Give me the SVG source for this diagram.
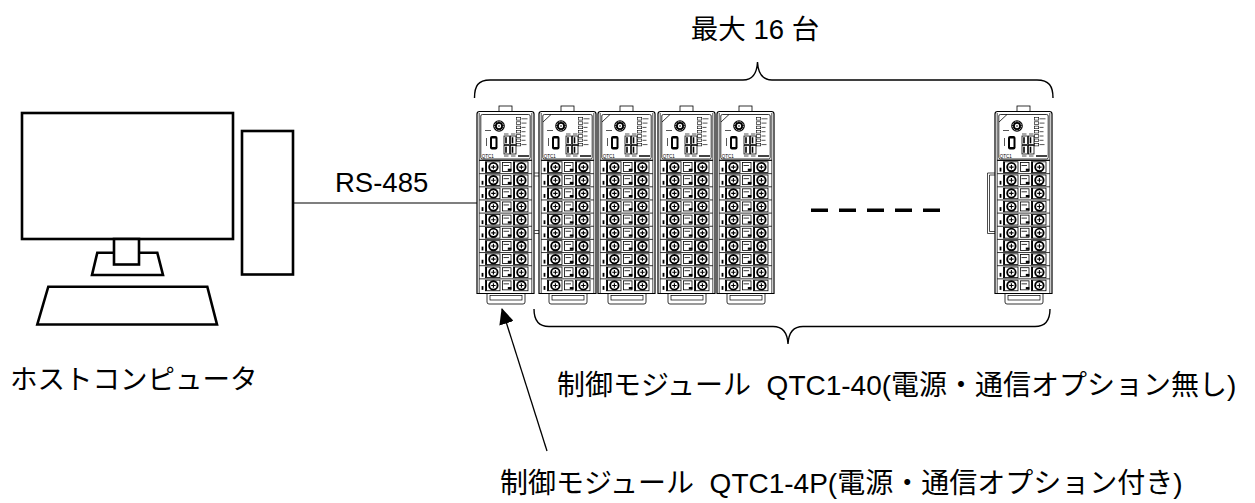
<svg xmlns="http://www.w3.org/2000/svg" width="1255" height="503" viewBox="0 0 1255 503">
<style>
.lbl{font-family:"Liberation Sans","Noto Sans CJK JP",sans-serif;font-size:27.5px;fill:#000}
.big{font-size:28px}
.pc{fill:#fff;stroke:#000;stroke-width:2.6;stroke-linejoin:miter}
.ln{fill:none;stroke:#000;stroke-width:1.4}
.th{stroke:#000;stroke-width:0.8;fill:#fff}
.tn{stroke:#000;stroke-width:0.6;fill:#fff}
.gl{stroke:#555;stroke-width:1;fill:none}
.tiny{font-family:"Liberation Sans",sans-serif;font-size:4.5px;fill:#000}
</style>
<defs>
<marker id="arr" markerUnits="userSpaceOnUse" viewBox="0 0 16 15" markerWidth="16" markerHeight="15" refX="15" refY="7.5" orient="auto">
<path d="M0,0 L16,7.5 L0,15 Z" fill="#000"/>
</marker>
<g id="row">
<line x1="2.2" y1="0" x2="54.8" y2="0" stroke="#000" stroke-width="0.8"/>
<rect x="4.6" y="7.2" width="1.8" height="3.8" fill="#000"/>
<rect x="8.5" y="1.3" width="14.5" height="10.6" class="th"/>
<line x1="9.2" y1="1.3" x2="9.2" y2="11.9" stroke="#000" stroke-width="1.6"/>
<circle cx="16.4" cy="6.6" r="4.2" fill="#fff" stroke="#000" stroke-width="1.9"/>
<path d="M14.2,6.6 H18.6 M16.4,4.4 V8.8" stroke="#000" stroke-width="1.1"/>
<rect x="25.5" y="2" width="8.5" height="9" class="th"/>
<line x1="26.5" y1="5" x2="32" y2="5" stroke="#000" stroke-width="0.8"/>
<rect x="30.8" y="8.2" width="3.6" height="2.2" fill="#000"/>
<rect x="36.5" y="1.3" width="14.5" height="10.6" class="th"/>
<line x1="37.2" y1="1.3" x2="37.2" y2="11.9" stroke="#000" stroke-width="1.6"/>
<circle cx="44.4" cy="6.6" r="4.2" fill="#fff" stroke="#000" stroke-width="1.9"/>
<path d="M42.2,6.6 H46.6 M44.4,4.4 V8.8" stroke="#000" stroke-width="1.1"/>
</g>
<g id="mod">
<rect x="22" y="106" width="13" height="6" class="th"/>
<path d="M10,292 V302 Q10,304 12,304 H46 Q48,304 48,302 V292" class="th"/>
<rect x="13" y="295.5" width="32" height="4.5" fill="none" stroke="#000" stroke-width="0.7"/>
<path d="M0,293.5 V114 Q0,111.5 2.5,111.5 H54.5 Q57,111.5 57,114 V293.5 Z" fill="#fff" stroke="#000" stroke-width="1.2"/>
<line x1="2.2" y1="113" x2="2.2" y2="293.5" stroke="#000" stroke-width="0.7"/>
<line x1="54.8" y1="113" x2="54.8" y2="293.5" stroke="#000" stroke-width="0.7"/>
<rect x="3.8" y="114.5" width="49.4" height="44.5" rx="1.5" class="th"/>
<circle cx="22" cy="126" r="5.8" fill="#000"/>
<circle cx="22" cy="126" r="4.4" fill="none" stroke="#fff" stroke-width="1" stroke-dasharray="0.9 0.9"/>
<circle cx="22" cy="126" r="2.2" fill="#fff"/>
<circle cx="22" cy="126" r="0.8" fill="#000"/>
<line x1="8" y1="130.5" x2="14" y2="130.5" class="gl"/>
<g>
<rect x="39.5" y="117.5" width="4.2" height="2.6" class="tn"/>
<rect x="39.5" y="121.8" width="4.2" height="2.6" class="tn"/>
<rect x="39.5" y="126.1" width="4.2" height="2.6" class="tn"/>
<rect x="39.5" y="130.4" width="4.2" height="2.6" class="tn"/>
<rect x="39.5" y="134.7" width="4.2" height="2.6" class="tn"/>
<rect x="39.5" y="139" width="4.2" height="2.6" class="tn"/>
<rect x="39.5" y="143.3" width="4.2" height="2.6" class="tn"/>
<path d="M44.5,118.8 H50.5 M44.5,123.1 H49.5 M44.5,127.4 H48.5 M44.5,131.7 H48.5 M44.5,136 H48.5 M44.5,140.3 H48.5 M44.5,144.6 H49.5" class="gl"/>
</g>
<path d="M27,134 H31.5 M34,134 H38.5 M27,156 H31.5 M34,156 H38.5" class="gl"/>
<rect x="13" y="136" width="7.5" height="13.5" rx="2" fill="#000"/>
<rect x="15" y="138.5" width="3.5" height="8.5" fill="#fff"/>
<line x1="9.5" y1="138" x2="9.5" y2="146" class="gl"/>
<g>
<rect x="27" y="136" width="5.5" height="8.5" class="th"/>
<rect x="33.5" y="136" width="5.5" height="8.5" class="th"/>
<rect x="27" y="145.5" width="5.5" height="8.5" class="th"/>
<rect x="33.5" y="145.5" width="5.5" height="8.5" class="th"/>
<rect x="28.2" y="137.2" width="1.6" height="6.1" fill="#000"/>
<rect x="34.7" y="137.2" width="1.6" height="6.1" fill="#000"/>
<rect x="28.2" y="146.7" width="1.6" height="6.1" fill="#000"/>
<rect x="34.7" y="146.7" width="1.6" height="6.1" fill="#000"/>
</g>
<text x="4.8" y="158" class="tiny">QTC1</text>
<rect x="41" y="155" width="11" height="2" fill="#444"/>
<line x1="2.2" y1="160.2" x2="54.8" y2="160.2" stroke="#000" stroke-width="1"/>
<use href="#row" y="160.5"/>
<use href="#row" y="173.65"/>
<use href="#row" y="186.8"/>
<use href="#row" y="199.95"/>
<use href="#row" y="213.1"/>
<use href="#row" y="226.25"/>
<use href="#row" y="239.4"/>
<use href="#row" y="252.55"/>
<use href="#row" y="265.7"/>
<use href="#row" y="278.85"/>
</g>
</defs>
<rect width="1255" height="503" fill="#fff"/>

<g id="host">
<rect x="22" y="113" width="211" height="126" class="pc"/>
<polygon points="97.3,252.7 157.3,252.7 163,275 92,275" class="pc"/>
<rect x="114" y="239" width="25" height="25.5" class="pc"/>
<polygon points="48.3,286.7 207.3,286.7 217,324.5 37.3,324.5" class="pc"/>
<rect x="242" y="131" width="51" height="143.5" class="pc"/>
<text x="10" y="389" class="lbl">ホストコンピュータ</text>
</g>

<g id="connectors">
<line x1="293" y1="203" x2="477" y2="203" stroke="#000" stroke-width="1.2"/>
<text x="335" y="192" class="lbl">RS-485</text>
<line x1="547" y1="451" x2="502" y2="309" stroke="#000" stroke-width="1.3" marker-end="url(#arr)"/>
</g>

<g id="module-1">
<use href="#mod" x="477"/>
<path d="M534.5,173 H539 M534.5,176 H539 M534.5,230.5 H539 M534.5,233.5 H539" stroke="#000" stroke-width="0.7"/>
</g>
<g id="module-2">
<use href="#mod" x="539"/>
<line x1="543" y1="122" x2="551" y2="114.5" stroke="#000" stroke-width="0.8"/>
</g>
<g id="module-3">
<use href="#mod" x="598"/>
<line x1="602" y1="122" x2="610" y2="114.5" stroke="#000" stroke-width="0.8"/>
</g>
<g id="module-4">
<use href="#mod" x="658"/>
<line x1="662" y1="122" x2="670" y2="114.5" stroke="#000" stroke-width="0.8"/>
</g>
<g id="module-5">
<use href="#mod" x="717"/>
<line x1="721" y1="122" x2="729" y2="114.5" stroke="#000" stroke-width="0.8"/>
</g>
<g id="module-16">
<use href="#mod" x="995"/>
<line x1="999" y1="122" x2="1007" y2="114.5" stroke="#000" stroke-width="0.8"/>
<path d="M995,173 H987.5 V233.5 H995 M995,175 H989.5 V231.5 H995" fill="none" stroke="#000" stroke-width="0.7"/>
</g>

<g id="ellipsis">
<rect x="811" y="208.5" width="17" height="3.5" fill="#000"/>
<rect x="839" y="208.5" width="17" height="3.5" fill="#000"/>
<rect x="867" y="208.5" width="17" height="3.5" fill="#000"/>
<rect x="895" y="208.5" width="17" height="3.5" fill="#000"/>
<rect x="923" y="208.5" width="17" height="3.5" fill="#000"/>
</g>

<g id="brace-top">
<path d="M474.5,98 C474.5,86 478,80 490,80 H743 C753,80 757,72 757.5,62 C758,72 762,80 772,80 H1037 C1049,80 1053,86 1053,98" class="ln"/>
<text x="755" y="39" class="lbl" text-anchor="middle">最大 16 台</text>
</g>

<g id="brace-bottom">
<path d="M534,309 C534,320 538,326.5 549,326.5 H773 C783,326.5 787.5,334 788,344 C788.5,334 793,326.5 803,326.5 H1035 C1046,326.5 1050,320 1050,309" class="ln"/>
<text x="557" y="395" class="lbl big" xml:space="preserve">制御モジュール  QTC1-40(電源・通信オプション無し)</text>
</g>

<text x="500" y="493" class="lbl big" xml:space="preserve">制御モジュール  QTC1-4P(電源・通信オプション付き)</text>
</svg>
